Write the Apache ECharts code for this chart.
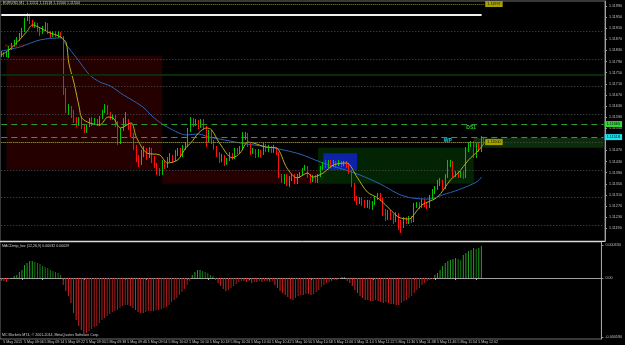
<!DOCTYPE html>
<html><head><meta charset="utf-8">
<script src="https://cdn.jsdelivr.net/npm/echarts@6/dist/echarts.min.js"></script>
<style>html,body{margin:0;padding:0;background:#000;}#c{width:625px;height:345px;}</style>
</head><body><div id="c"></div><script>
// ---------- data ----------
const firstBar = '08:58';           // first M1 bar, 5 May 2015
const slotCount = 233;              // bars + right shift space
const candleOCLH = [ // [open, close, low, high]
[1.11814,1.11821,1.11806,1.11828],[1.11821,1.11814,1.11806,1.11824],[1.11814,1.11817,1.11806,1.11824],[1.11806,1.11839,1.11803,1.11846],
[1.11839,1.11850,1.11832,1.11857],[1.11850,1.11857,1.11842,1.11868],[1.11857,1.11868,1.11850,1.11878],[1.11868,1.11886,1.11864,1.11893],
[1.11886,1.11904,1.11878,1.11911],[1.11904,1.11943,1.11896,1.11947],[1.11943,1.11950,1.11936,1.11965],[1.11950,1.11932,1.11925,1.11954],
[1.11932,1.11918,1.11914,1.11940],[1.11918,1.11925,1.11911,1.11932],[1.11925,1.11904,1.11896,1.11929],[1.11904,1.11893,1.11882,1.11911],
[1.11893,1.11911,1.11889,1.11918],[1.11911,1.11925,1.11900,1.11932],[1.11925,1.11893,1.11889,1.11929],[1.11893,1.11882,1.11875,1.11900],
[1.11882,1.11893,1.11878,1.11900],[1.11893,1.11886,1.11878,1.11900],[1.11886,1.11893,1.11875,1.11900],[1.11893,1.11878,1.11875,1.11896],
[1.11878,1.11677,1.11670,1.11882],[1.11677,1.11616,1.11605,1.11695],[1.11616,1.11623,1.11598,1.11637],[1.11623,1.11594,1.11587,1.11630],
[1.11594,1.11576,1.11569,1.11616],[1.11576,1.11562,1.11554,1.11590],[1.11562,1.11583,1.11558,1.11590],[1.11583,1.11558,1.11547,1.11594],
[1.11558,1.11540,1.11533,1.11565],[1.11540,1.11558,1.11533,1.11565],[1.11558,1.11580,1.11554,1.11587],[1.11580,1.11565,1.11558,1.11590],
[1.11565,1.11576,1.11562,1.11587],[1.11576,1.11562,1.11558,1.11583],[1.11562,1.11587,1.11558,1.11594],[1.11587,1.11608,1.11583,1.11616],
[1.11608,1.11630,1.11605,1.11637],[1.11630,1.11605,1.11598,1.11634],[1.11605,1.11587,1.11580,1.11608],[1.11587,1.11594,1.11580,1.11601],
[1.11594,1.11569,1.11554,1.11598],[1.11569,1.11497,1.11490,1.11576],[1.11497,1.11544,1.11493,1.11551],[1.11544,1.11565,1.11540,1.11587],
[1.11565,1.11576,1.11558,1.11608],[1.11576,1.11558,1.11544,1.11583],[1.11558,1.11526,1.11518,1.11565],[1.11526,1.11482,1.11472,1.11533],
[1.11482,1.11443,1.11428,1.11490],[1.11443,1.11425,1.11410,1.11454],[1.11425,1.11454,1.11418,1.11472],[1.11454,1.11472,1.11446,1.11486],
[1.11472,1.11450,1.11436,1.11479],[1.11450,1.11472,1.11443,1.11482],[1.11472,1.11443,1.11425,1.11479],[1.11443,1.11418,1.11407,1.11450],
[1.11418,1.11392,1.11382,1.11425],[1.11392,1.11385,1.11378,1.11407],[1.11385,1.11425,1.11382,1.11436],[1.11425,1.11410,1.11403,1.11436],
[1.11410,1.11436,1.11407,1.11446],[1.11436,1.11446,1.11428,1.11461],[1.11446,1.11436,1.11425,1.11454],[1.11436,1.11457,1.11432,1.11472],
[1.11457,1.11468,1.11450,1.11479],[1.11468,1.11454,1.11446,1.11479],[1.11454,1.11479,1.11446,1.11490],[1.11479,1.11490,1.11472,1.11500],
[1.11490,1.11544,1.11482,1.11551],[1.11544,1.11580,1.11536,1.11590],[1.11580,1.11565,1.11554,1.11587],[1.11565,1.11572,1.11558,1.11583],
[1.11572,1.11554,1.11547,1.11580],[1.11554,1.11576,1.11551,1.11583],[1.11576,1.11551,1.11544,1.11583],[1.11551,1.11508,1.11482,1.11558],
[1.11508,1.11536,1.11500,1.11544],[1.11536,1.11500,1.11493,1.11544],[1.11500,1.11479,1.11472,1.11508],[1.11479,1.11454,1.11446,1.11486],
[1.11454,1.11436,1.11425,1.11464],[1.11436,1.11446,1.11428,1.11457],[1.11446,1.11421,1.11414,1.11454],[1.11421,1.11436,1.11418,1.11443],
[1.11436,1.11454,1.11432,1.11464],[1.11454,1.11443,1.11436,1.11461],[1.11443,1.11472,1.11439,1.11479],[1.11472,1.11461,1.11457,1.11479],
[1.11461,1.11479,1.11457,1.11486],[1.11479,1.11522,1.11475,1.11536],[1.11522,1.11529,1.11508,1.11536],[1.11529,1.11490,1.11482,1.11533],
[1.11490,1.11464,1.11454,1.11497],[1.11464,1.11472,1.11457,1.11479],[1.11472,1.11454,1.11443,1.11475],[1.11454,1.11468,1.11446,1.11475],
[1.11468,1.11457,1.11443,1.11472],[1.11457,1.11490,1.11454,1.11497],[1.11490,1.11472,1.11464,1.11493],[1.11472,1.11482,1.11464,1.11490],
[1.11482,1.11468,1.11461,1.11486],[1.11468,1.11479,1.11461,1.11490],[1.11479,1.11461,1.11454,1.11482],[1.11461,1.11378,1.11371,1.11464],
[1.11378,1.11364,1.11353,1.11385],[1.11364,1.11378,1.11349,1.11385],[1.11378,1.11353,1.11342,1.11385],[1.11353,1.11371,1.11338,1.11378],
[1.11371,1.11378,1.11360,1.11385],[1.11378,1.11356,1.11349,1.11385],[1.11356,1.11378,1.11349,1.11385],[1.11378,1.11385,1.11371,1.11392],
[1.11385,1.11400,1.11378,1.11407],[1.11400,1.11410,1.11396,1.11418],[1.11410,1.11378,1.11371,1.11414],[1.11378,1.11364,1.11353,1.11385],
[1.11364,1.11374,1.11356,1.11382],[1.11374,1.11360,1.11353,1.11382],[1.11360,1.11378,1.11353,1.11385],[1.11378,1.11407,1.11374,1.11414],
[1.11407,1.11421,1.11400,1.11428],[1.11421,1.11414,1.11407,1.11436],[1.11414,1.11428,1.11407,1.11436],[1.11428,1.11414,1.11407,1.11436],
[1.11414,1.11425,1.11410,1.11436],[1.11425,1.11418,1.11407,1.11432],[1.11418,1.11428,1.11414,1.11436],[1.11428,1.11418,1.11410,1.11432],
[1.11418,1.11425,1.11414,1.11432],[1.11425,1.11414,1.11407,1.11432],[1.11414,1.11392,1.11385,1.11421],[1.11392,1.11346,1.11338,1.11400],
[1.11346,1.11299,1.11288,1.11353],[1.11299,1.11284,1.11274,1.11306],[1.11284,1.11295,1.11277,1.11302],[1.11295,1.11281,1.11270,1.11302],
[1.11281,1.11270,1.11263,1.11292],[1.11270,1.11284,1.11263,1.11292],[1.11284,1.11266,1.11259,1.11292],[1.11266,1.11281,1.11256,1.11288],
[1.11281,1.11299,1.11274,1.11306],[1.11299,1.11310,1.11292,1.11317],[1.11310,1.11295,1.11288,1.11317],[1.11295,1.11248,1.11234,1.11299],
[1.11248,1.11227,1.11216,1.11259],[1.11227,1.11248,1.11220,1.11256],[1.11248,1.11230,1.11220,1.11256],[1.11230,1.11220,1.11205,1.11241],
[1.11220,1.11238,1.11212,1.11248],[1.11238,1.11205,1.11184,1.11245],[1.11205,1.11198,1.11173,1.11220],[1.11198,1.11223,1.11191,1.11230],
[1.11223,1.11212,1.11205,1.11230],[1.11212,1.11227,1.11205,1.11234],[1.11227,1.11216,1.11209,1.11234],[1.11216,1.11270,1.11212,1.11281],
[1.11270,1.11277,1.11263,1.11284],[1.11277,1.11266,1.11259,1.11284],[1.11266,1.11288,1.11263,1.11295],[1.11288,1.11274,1.11266,1.11295],
[1.11274,1.11266,1.11259,1.11281],[1.11266,1.11299,1.11263,1.11310],[1.11299,1.11320,1.11295,1.11331],[1.11320,1.11335,1.11313,1.11342],
[1.11335,1.11353,1.11328,1.11364],[1.11353,1.11356,1.11342,1.11371],[1.11356,1.11335,1.11328,1.11364],[1.11335,1.11378,1.11331,1.11385],
[1.11378,1.11421,1.11371,1.11436],[1.11421,1.11425,1.11410,1.11436],[1.11425,1.11382,1.11374,1.11432],[1.11382,1.11389,1.11374,1.11396],
[1.11389,1.11378,1.11371,1.11396],[1.11378,1.11389,1.11371,1.11396],[1.11389,1.11374,1.11367,1.11396],[1.11374,1.11472,1.11371,1.11482],
[1.11472,1.11490,1.11464,1.11500],[1.11490,1.11497,1.11482,1.11504],[1.11497,1.11450,1.11443,1.11504],[1.11450,1.11486,1.11443,1.11497],
[1.11486,1.11472,1.11464,1.11497],[1.11472,1.11511,1.11464,1.11522],[1.11511,1.11504,1.11500,1.11518]
];
// moving averages read at bar indices: [barIndex, price]
const maFast = [[0,1.11814],[3,1.11832],[7,1.11868],[10,1.11900],[12,1.11922],[15,1.11911],[18,1.11896],[21,1.11886],[23,1.11878],[25,1.11857],[26,1.11785],[28,1.11713],[30,1.11626],[31,1.11587],[34,1.11569],[38,1.11562],[41,1.11590],[43,1.11587],[46,1.11551],[50,1.11569],[52,1.11518],[56,1.11461],[61,1.11454],[64,1.11425],[68,1.11436],[71,1.11479],[73,1.11497],[76,1.11533],[79,1.11551],[81,1.11544],[84,1.11497],[89,1.11443],[92,1.11461],[95,1.11500],[97,1.11497],[102,1.11482],[106,1.11479],[110,1.11407],[114,1.11371],[118,1.11389],[120,1.11374],[124,1.11389],[128,1.11418],[133,1.11425],[137,1.11374],[141,1.11320],[145,1.11299],[148,1.11274],[153,1.11230],[157,1.11223],[160,1.11252],[162,1.11274],[168,1.11302],[173,1.11364],[176,1.11389],[180,1.11436],[184,1.11472],[186,1.11497]];
const maSlow = [[0,1.11828],[7,1.11842],[15,1.11868],[23,1.11875],[25,1.11850],[29,1.11803],[34,1.11742],[38,1.11716],[42,1.11702],[47,1.11670],[51,1.11648],[55,1.11623],[58,1.11594],[62,1.11565],[66,1.11544],[71,1.11526],[76,1.11529],[80,1.11518],[84,1.11511],[92,1.11497],[100,1.11486],[107,1.11475],[115,1.11457],[123,1.11428],[130,1.11407],[138,1.11382],[146,1.11349],[153,1.11313],[158,1.11299],[165,1.11295],[170,1.11310],[176,1.11328],[183,1.11356],[185,1.11374]];
// MACD histogram in points (0.00001)
const macdPoints = [-3,-3,-4,-1,0,2,3,6,8,13,15,17,17,16,15,14,12,11,10,8,7,6,5,3,
-7,-13,-18,-25,-35,-42,-48,-52,-56,-55,-53,-51,-49,-48,-45,-42,-40,-38,-36,-34,-33,-32,-30,-28,-27,-27,
-28,-30,-32,-34,-35,-35,-34,-33,-33,-33,-32,-32,-31,-30,-29,-27,-24,-22,-20,-17,-14,-11,-7,-3,
3,6,8,8,7,6,5,3,2,-2,-5,-8,-11,-13,-12,-10,-8,-6,-4,-3,-3,-4,-3,-5,-4,-4,-3,-4,-3,-3,-4,-3,
-7,-10,-13,-15,-17,-19,-21,-22,-20,-18,-17,-17,-16,-16,-17,-16,-14,-12,-9,-7,-5,-4,-3,-2,-2,-1,1,1,
-3,-5,-8,-12,-15,-18,-20,-22,-22,-23,-23,-22,-23,-24,-25,-24,-25,-26,-26,-27,-27,-25,-23,-22,-20,-18,-15,-12,-10,-7,-5,-3,-2,-1,
3,5,8,12,15,17,18,19,20,19,18,23,25,27,28,30,29,30,32];
const priceTicks = [1.1199,1.1195,1.1191,1.1187,1.1183,1.1179,1.1175,1.1171,1.1167,1.1163,1.1159,1.1155,1.1151,1.1147,1.1143,1.1139,1.1135,1.1131,1.1127,1.1123,1.1119];
const macdTicks = [0.00033, 0, -0.00059];
const gridLevels = [1.1190,1.1180,1.1170,1.1160,1.1150,1.1140,1.1130,1.1120];
const timeTickIdx = [0,8,16,24,32,40,48,56,64,72,80,88,96,104,112,120,128,136,144,152,160,168,176,184];
const timeTickLabels = ['5 May 2015','5 May 09:06','5 May 09:14','5 May 09:22','5 May 09:30','5 May 09:38','5 May 09:46','5 May 09:54','5 May 10:02','5 May 10:10','5 May 10:18','5 May 10:26','5 May 10:34','5 May 10:42','5 May 10:50','5 May 10:58','5 May 11:06','5 May 11:14','5 May 11:22','5 May 11:30','5 May 11:38','5 May 11:46','5 May 11:54','5 May 12:02'];
// hourly zones and box
const zoneFrom = ['09:00','10:00','11:00','12:00','11:02'];
const zoneTo   = ['10:00','11:00','12:00','12:50','11:15'];
const zoneHigh = [1.1181, 1.1140, 1.1148, 1.11515, 1.1146];
const zoneLow  = [1.1140, 1.1135, 1.1135, 1.1148, 1.1140];
const levelDS1 = 1.11565, levelWP = 1.11518, levelBid = 1.11500, levelTop = 1.11997, levelWhite = 1.11958, levelGreen = 1.11742;

// ---------- build ----------
const cats = [];
{ const [h0,m0] = firstBar.split(':').map(Number); let t = h0*60+m0;
  for (let i=0;i<slotCount;i++,t++) cats.push(String(Math.floor(t/60)).padStart(2,'0')+':'+String(t%60).padStart(2,'0')); }
const firstCat = cats[0], lastCat = cats[slotCount-1];
const lastBar = cats[candleOCLH.length-1];
const zoneColors = ['#240000','#240000','#022402','#0b2d0b','#0c22a8'];
const FONT = 'Liberation Sans';
const tickSet = new Set(timeTickIdx);
const macdData = macdPoints.map((v,i)=>{
  const p = i>0 ? macdPoints[i-1] : 0;
  const inc = Math.abs(v) >= Math.abs(p);
  const col = v>=0 ? (inc?'#22a322':'#167a16') : (inc?'#d22424':'#a81c1c');
  return {value: v/100000, itemStyle:{color: col}};
});
const lbl = (txt,bg,fg)=>({show:true,position:'end',formatter:txt,backgroundColor:bg,color:fg,fontSize:3.8,fontFamily:FONT,padding:[1,2],distance:1});
const hLine = (v, from, to, style, label) => [
  {coord:[from, v], lineStyle:style, label: label || {show:false}},
  {coord:[to, v]}
];

const chart = echarts.init(document.getElementById('c'), null, {renderer:'canvas'});
chart.setOption({
  backgroundColor:'#000',
  animation:false,
  grid:[
    {left:0, top:1, width:605, height:240, show:true, borderColor:'#707070', borderWidth:1},
    {left:0, top:242, width:605, height:97, show:true, borderColor:'#707070', borderWidth:1}
  ],
  xAxis:[
    {type:'category', gridIndex:0, data:cats, boundaryGap:true,
     axisLabel:{show:false}, axisTick:{show:false}, splitLine:{show:false},
     axisLine:{show:true, lineStyle:{color:'#d8d8d8', width:1}}},
    {type:'category', gridIndex:1, data:cats, boundaryGap:true, splitLine:{show:false},
     axisLine:{show:true, lineStyle:{color:'#a0a0a0'}},
     axisTick:{show:true, alignWithLabel:true, length:2, interval:(i)=>tickSet.has(i), lineStyle:{color:'#b0b0b0'}},
     axisLabel:{show:true, interval:(i)=>tickSet.has(i), formatter:(v,i)=>timeTickLabels[timeTickIdx.indexOf(i)]||'',
       align:'left', padding:[0,0,0,2], margin:1, fontSize:3.6, fontFamily:FONT, color:'#c8c8c8'}}
  ],
  yAxis:[
    {type:'value', gridIndex:0, position:'right', min:1.11144, max:1.12008, splitLine:{show:false},
     axisLine:{show:true, lineStyle:{color:'#a0a0a0'}},
     axisTick:{show:true, customValues:priceTicks, length:2, lineStyle:{color:'#a0a0a0'}},
     axisLabel:{show:true, customValues:priceTicks, formatter:(v)=>v.toFixed(5), margin:4, fontSize:3.7, fontFamily:FONT, color:'#c0c0c0'}},
    {type:'value', gridIndex:1, position:'right', min:-0.00061, max:0.00036, splitLine:{show:false},
     axisLine:{show:true, lineStyle:{color:'#a0a0a0'}},
     axisTick:{show:true, customValues:macdTicks, length:2, lineStyle:{color:'#a0a0a0'}},
     axisLabel:{show:true, customValues:macdTicks, formatter:(v)=>v===0?'0.00':v.toFixed(6), margin:4, fontSize:3.7, fontFamily:FONT, color:'#c0c0c0'}}
  ],
  series:[
    { // zones, grid levels and slow MA
      type:'line', name:'MA slow', xAxisIndex:0, yAxisIndex:0, z:1, data:maSlow, showSymbol:false, symbol:'none', smooth:0.3,
      lineStyle:{color:'#2a62b4', width:1},
      markArea:{silent:true, data: zoneFrom.map((f,i)=>[
        {xAxis:f, yAxis:zoneHigh[i], itemStyle:{color:zoneColors[i]}},
        {xAxis:zoneTo[i], yAxis:zoneLow[i]}])},
      markLine:{silent:true, symbol:['none','none'], label:{show:false}, data:[
        ...gridLevels.map(v=>hLine(v, firstCat, lastCat, {color:'#505050', type:[1,2], width:1})),
        hLine(levelGreen, firstCat, lastCat, {color:'#0b2c0b', type:'solid', width:2})
      ]}
    },
    {
      type:'candlestick', name:'EURUSD', xAxisIndex:0, yAxisIndex:0, z:3, data:candleOCLH, barWidth:1,
      itemStyle:{color:'#00c800', color0:'#ff1010', borderColor:'#00c800', borderColor0:'#ff1010', borderWidth:1},
      markLine:{silent:true, symbol:['none','none'], label:{show:false}, data:[
        hLine(levelDS1, firstCat, lastCat, {color:'#2c9a2c', type:[6,4], width:1}, lbl(levelDS1.toFixed(5),'#33d633','#000')),
        hLine(levelWP, firstCat, lastCat, {color:'#1c8fb4', type:[6,4], width:1}, lbl(levelWP.toFixed(5),'#1ae4f2','#000')),
        hLine(levelBid, firstCat, lastBar, {color:'#a3a300', type:[1,1], width:1}, lbl(levelBid.toFixed(5),'#a8a200','#101000')),
        hLine(levelTop, firstCat, lastBar, {color:'#8a8a10', type:[1,1], width:1}, lbl(levelTop.toFixed(5),'#a8a200','#101000')),
        hLine(levelWhite, firstCat, cats[185], {color:'#f0f0f0', type:'solid', width:2})
      ]},
      markPoint:{silent:true, symbol:'rect', symbolSize:1, itemStyle:{color:'transparent'}, data:[
        {coord:[cats[181],1.11551], label:{show:true, formatter:'DS1', color:'#2fcf2f', fontSize:5, fontWeight:'bold', fontFamily:FONT, position:'inside'}},
        {coord:[cats[172],1.11504], label:{show:true, formatter:'WP', color:'#19d8f0', fontSize:5, fontWeight:'bold', fontFamily:FONT, position:'inside'}}
      ]}
    },
    {type:'line', name:'MA fast', xAxisIndex:0, yAxisIndex:0, z:4, data:maFast, showSymbol:false, symbol:'none', smooth:0.3,
     lineStyle:{color:'#b3ad24', width:1}},
    {type:'bar', name:'MACD', xAxisIndex:1, yAxisIndex:1, data:macdData, barWidth:1}
  ],
  graphic:[
    {type:'text', left:3, top:1, z:10, style:{text:'EURUSD,M1  1.11511 1.11518 1.11500 1.11504', fill:'#d8d8d8', fontSize:3.6, fontFamily:FONT}},
    {type:'text', left:5, top:44, z:10, style:{text:'Spread: 0.2', fill:'#b81c1c', fontSize:3.8, fontFamily:FONT}},
    {type:'text', left:2, top:244, z:10, style:{text:'MACDmtp_bar (12,26,9) 0.00032 0.00029', fill:'#d0d0d0', fontSize:3.6, fontFamily:FONT}},
    {type:'text', left:2, top:333, z:10, style:{text:'MC Markets MT4, © 2001-2014, MetaQuotes Software Corp.', fill:'#d0d0d0', fontSize:3.6, fontFamily:FONT}}
  ]
});
</script></body></html>
